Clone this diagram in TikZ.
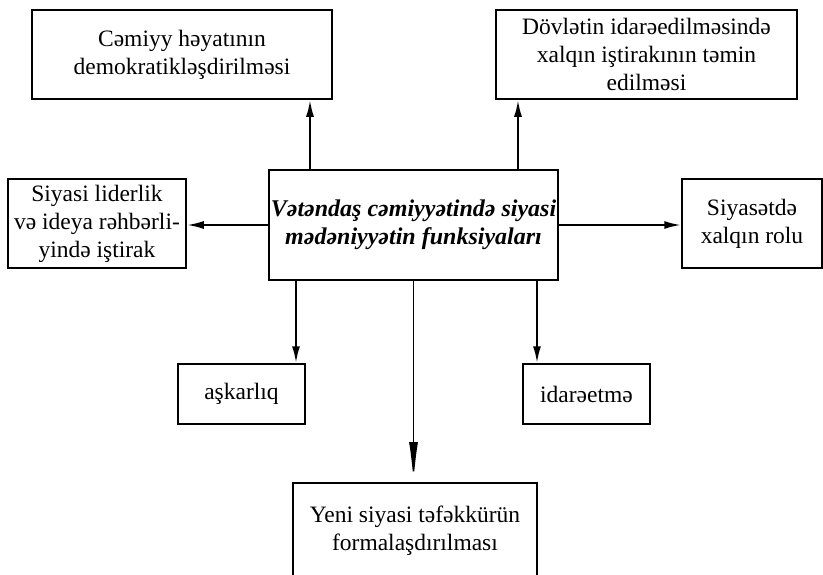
\documentclass[tikz,border=0pt]{standalone}
\usepackage{fontspec}
\setmainfont{Liberation Serif}
\usetikzlibrary{arrows.meta}

\begin{document}
\begin{tikzpicture}[x=1pt,y=-1pt,
    box/.style={draw, line width=1.5pt, rectangle, align=center, inner sep=2pt,
        font=\fontsize{23.5}{28}\selectfont},
    arr/.style={line width=2.2pt, -{Latex[length=17pt,width=8pt]}},
    longarr/.style={line width=1.6pt, -{Latex[length=40pt,width=9pt]}}]
    \useasboundingbox (0,0) rectangle (823,574);

    \node[box, minimum width=289pt, minimum height=110pt, font=\fontsize{24}{28}\selectfont\bfseries\itshape]
        (funk) at (413.5,225) {Vətəndaş cəmiyyətində siyasi\\mədəniyyətin funksiyaları};

    \node[box, minimum width=300pt, minimum height=89pt] (demo) at (182,54.5)
        {Cəmiyy həyatının\\demokratikləşdirilməsi};
    \node[box, minimum width=301pt, minimum height=89pt] (xalq) at (646.5,54.5)
        {Dövlətin idarəedilməsində\\xalqın iştirakının təmin\\edilməsi};
    \node[box, minimum width=178pt, minimum height=89pt] (lider) at (97,223.5)
        {Siyasi liderlik\\və ideya rəhbərli-\\yində iştirak};
    \node[box, minimum width=140pt, minimum height=89pt] (rol) at (752,223.5)
        {Siyasətdə\\xalqın rolu};
    \node[box, minimum width=127pt, minimum height=60pt] (ashkar) at (241.5,394)
        {aşkarlıq};
    \node[box, minimum width=127pt, minimum height=60pt] (idare) at (586.5,394)
        {idarəetmə};
    \node[box, minimum width=244pt, minimum height=96pt, anchor=north] (tefek) at (415,482)
        {Yeni siyasi təfəkkürün\\formalaşdırılması};

    \coordinate (up1) at ([xshift=-103.5pt]funk.north);
    \coordinate (up2) at ([xshift=104.5pt]funk.north);
    \coordinate (dn1) at ([xshift=-117.5pt]funk.south);
    \coordinate (dn2) at ([xshift=123.5pt]funk.south);

    \draw[arr] (up1) -- (up1 |- demo.south);
    \draw[arr] (up2) -- (up2 |- xalq.south);
    \draw[arr] (funk.west) -- (funk.west -| lider.east);
    \draw[arr] (funk.east) -- (funk.east -| rol.west);
    \draw[arr] (dn1) -- (dn1 |- ashkar.north);
    \draw[arr] (dn2) -- (dn2 |- idare.north);
    \draw[longarr] (funk.south) -- (funk.south |- tefek.north);

\end{tikzpicture}
\end{document}
